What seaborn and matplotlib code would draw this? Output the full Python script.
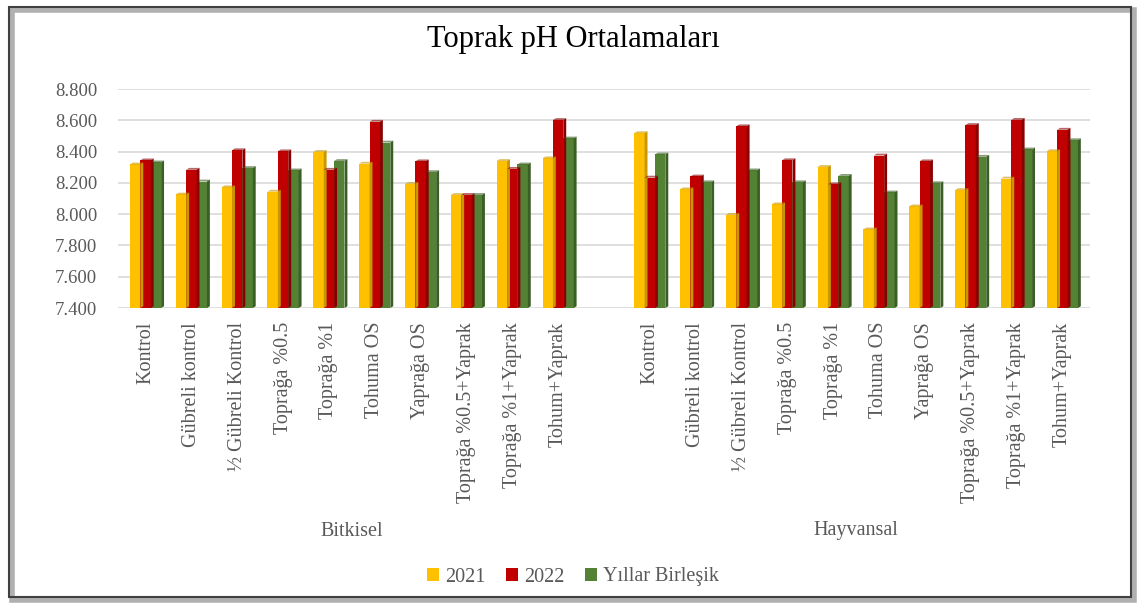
import matplotlib
matplotlib.use("Agg")
import matplotlib.pyplot as plt
import matplotlib.transforms as mtransforms
from matplotlib.patches import Rectangle, Polygon
import seaborn as sns
import pandas as pd
import numpy as np

categories = ["Kontrol", "Gübreli kontrol", "½ Gübreli Kontrol", "Toprağa %0.5",
              "Toprağa %1", "Tohuma OS", "Yaprağa OS", "Toprağa %0.5+Yaprak",
              "Toprağa %1+Yaprak", "Tohum+Yaprak"]
groups = ["Bitkisel", "Hayvansal"]
series = ["2021", "2022", "Yıllar Birleşik"]

bitkisel_2021 = [8.318, 8.126, 8.172, 8.144, 8.398, 8.323, 8.194, 8.123, 8.340, 8.357]
bitkisel_2022 = [8.344, 8.284, 8.409, 8.402, 8.284, 8.591, 8.338, 8.123, 8.290, 8.602]
bitkisel_birlesik = [8.331, 8.209, 8.295, 8.280, 8.340, 8.458, 8.269, 8.123, 8.318, 8.484]

hayvansal_2021 = [8.518, 8.159, 7.996, 8.063, 8.302, 7.903, 8.050, 8.154, 8.228, 8.403]
hayvansal_2022 = [8.234, 8.241, 8.562, 8.345, 8.191, 8.375, 8.338, 8.570, 8.603, 8.540]
hayvansal_birlesik = [8.382, 8.204, 8.280, 8.204, 8.245, 8.139, 8.198, 8.367, 8.414, 8.473]

colors = ["#FFC000", "#C00000", "#548235"]
side_colors = ["#C99700", "#8A0000", "#3B5E25"]

values = {
    "Bitkisel": [bitkisel_2021, bitkisel_2022, bitkisel_birlesik],
    "Hayvansal": [hayvansal_2021, hayvansal_2022, hayvansal_birlesik],
}
rows = []
for g in groups:
    for s, vals in zip(series, values[g]):
        for c, v in zip(categories, vals):
            rows.append({"key": g + "|" + c, "Seri": s, "pH": v})
df = pd.DataFrame(rows)

order = [groups[0] + "|" + c for c in categories] + ["spacer"] + \
        [groups[1] + "|" + c for c in categories]

serif = ["Liberation Serif", "DejaVu Serif"]
sns.set_theme(style="white")
plt.rcParams["font.family"] = serif

fig = plt.figure(figsize=(11.46, 6.10), dpi=100)
ax = fig.add_axes([0.103, 0.495, 0.848, 0.359])

sns.barplot(data=df, x="key", y="pH", hue="Seri", order=order, hue_order=series,
            palette=colors, width=0.68, gap=0, saturation=1, ax=ax,
            edgecolor="none", zorder=3)

# pseudo 3D side faces on each bar
for container, sc in zip(ax.containers, side_colors):
    for p in container.patches:
        x0 = p.get_x() + p.get_width()
        y1 = p.get_y() + p.get_height()
        d = p.get_width() * 0.28
        dy = 0.012
        ax.add_patch(Polygon([(x0, 7.4), (x0 + d, 7.4 + dy), (x0 + d, y1 + dy), (x0, y1)],
                             closed=True, facecolor=sc, edgecolor="none", zorder=3))
        ax.add_patch(Polygon([(p.get_x(), y1), (p.get_x() + d, y1 + dy), (x0 + d, y1 + dy), (x0, y1)],
                             closed=True, facecolor=sc, edgecolor="none", zorder=3, alpha=0.6))

ax.set_ylim(7.4, 8.8)
ax.set_xlim(-0.6, len(order) - 0.4)
ax.set_yticks(np.arange(7.4, 8.81, 0.2))
ax.set_yticklabels([f"{t:.3f}" for t in np.arange(7.4, 8.81, 0.2)],
                   fontsize=13.5, color="#595959")
ax.yaxis.grid(True, color="#D9D9D9", linewidth=1.2, zorder=0)
ax.set_axisbelow(True)
for s in ax.spines.values():
    s.set_visible(False)
ax.tick_params(axis="y", length=0, pad=15)
ax.tick_params(axis="x", length=0, pad=10)

ticks = [i for i, k in enumerate(order) if k != "spacer"]
ax.set_xticks(ticks)
ax.set_xticklabels(categories * 2, rotation=90, ha="center", va="top",
                   fontsize=14.5, color="#595959")
ax.set_xlabel("")
ax.set_ylabel("")

trans = mtransforms.blended_transform_factory(ax.transData, fig.transFigure)
ax.text(4.5, 1 - 531 / 610, "Bitkisel", transform=trans, ha="center", va="center",
        fontsize=14.5, color="#595959")
ax.text(15.5, 1 - 531 / 610, "Hayvansal", transform=trans, ha="center", va="center",
        fontsize=14.5, color="#595959")

fig.text(0.5, 1 - 40 / 610, "Toprak pH Ortalamaları", ha="center", va="center",
         fontsize=22, color="black")

handles, labels = ax.get_legend_handles_labels()
ax.get_legend().remove()
fig.legend(handles, labels, loc="center", bbox_to_anchor=(0.5, 1 - 577 / 610),
           ncol=3, frameon=False, fontsize=14.5, handlelength=0.6, handleheight=0.6,
           handletextpad=0.3, columnspacing=1.0, labelcolor="#595959")

# chart border with shadow
fig.patches.append(Rectangle((12 / 1146, 1 - 600 / 610), 1122 / 1146, 590 / 610,
                             transform=fig.transFigure, facecolor="none",
                             edgecolor="#B0B0B0", linewidth=4, zorder=0))
fig.patches.append(Rectangle((9 / 1146, 1 - 597 / 610), 1122 / 1146, 590 / 610,
                             transform=fig.transFigure, facecolor="none",
                             edgecolor="#404040", linewidth=1.5, zorder=1))

fig.savefig("out.png", dpi=100)
